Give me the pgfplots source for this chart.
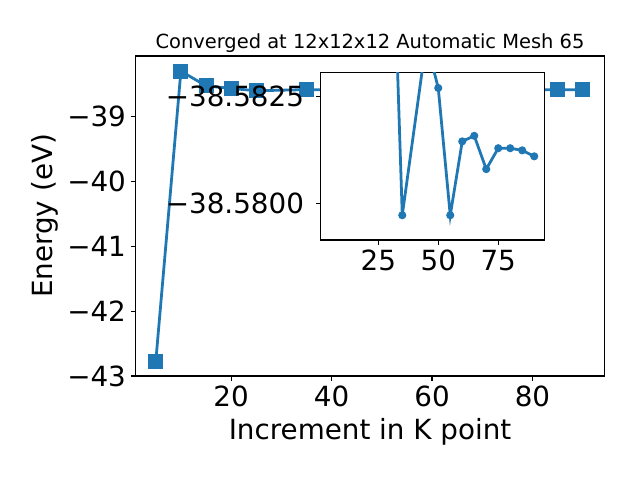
\documentclass[border=0pt]{standalone}
\usepackage{fontspec}
\setmainfont{DejaVu Sans}
\usepackage{pgfplots}
\pgfplotsset{compat=1.18}
\definecolor{tabblue}{HTML}{1F77B4}
\pgfplotstableread{
x y
5 -42.776
10 -38.294
15 -38.521
20 -38.561
25 -38.597
35 -38.57972
45 -38.5838
50 -38.58270
55 -38.57972
60 -38.58145
65 -38.58158
70 -38.58080
75 -38.58129
80 -38.58129
85 -38.58124
90 -38.58110
}\energydata
\begin{document}
\begin{tikzpicture}[x=1pt,y=1pt]
\path[use as bounding box, fill=white] (0,0) rectangle (460.8,345.6);
\pgfplotsset{
  mystyle/.style={
    scale only axis, anchor=south west,
    tick align=outside, tick pos=left, major tick length=3.5pt,
    every tick/.style={black, line width=0.8pt},
    axis line style={line width=0.8pt},
    tick label style={font=\fontsize{20}{24}\selectfont},
    label style={font=\fontsize{20}{24}\selectfont},
  }
}
\begin{axis}[mystyle,
  at={(97.7pt,74.9pt)},
  width=337.4pt, height=230.4pt,
  xmin=1.0, xmax=94.3, ymin=-43.0, ymax=-38.06,
  xtick={20,40,60,80}, xticklabels={20,40,60,80},
  ytick={-43,-42,-41,-40,-39}, yticklabels={−43,−42,−41,−40,−39},
  xlabel={Increment in K point}, ylabel={Energy (eV)},
  xlabel style={at={(axis description cs:0.5,0)}, anchor=base, yshift=-46.1pt},
  ylabel style={at={(axis description cs:-0.1935,0.5)}, anchor=center},
  title={Converged at 12x12x12 Automatic Mesh 65},
  title style={font=\fontsize{14}{17}\selectfont, at={(axis description cs:0.5,1)}, anchor=base, yshift=-0.5pt},
]
\addplot[tabblue, line width=2pt, mark=square*, mark size=5pt, mark options={line width=0.8pt, fill=tabblue}] table[x=x,y=y] {\energydata};
\end{axis}
\begin{axis}[mystyle,
  at={(230.9pt,172.8pt)},
  width=161pt, height=120.5pt,
  xmin=1.0, xmax=94.2, ymin=-38.58306, ymax=-38.57914, y dir=reverse,
  xtick={25,50,75}, xticklabels={25,50,75},
  ytick={-38.5825,-38.58}, yticklabels={−38.5825,−38.5800},
  yticklabel style={xshift=-5pt},
  axis background/.style={fill=white},
]
\addplot[tabblue, line width=2pt, mark=*, mark size=2.5pt, mark options={line width=0.8pt, fill=tabblue}, skip coords between index={0}{4}] table[x=x,y=y] {\energydata};
\end{axis}
\end{tikzpicture}
\end{document}
